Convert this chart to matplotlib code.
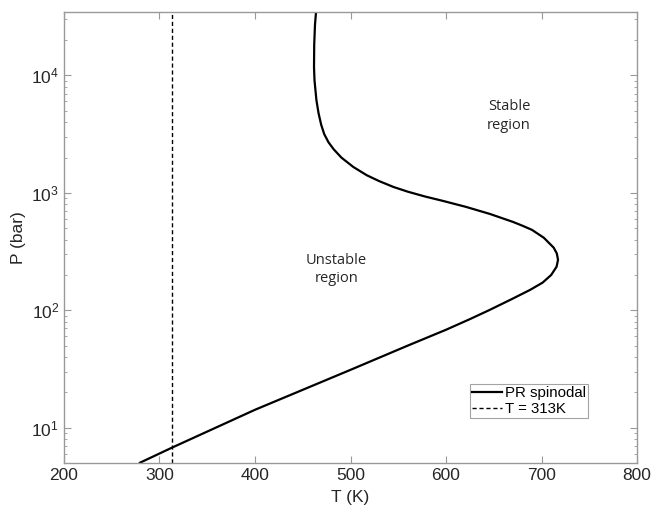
import matplotlib
matplotlib.use("Agg")
import matplotlib.pyplot as plt
from matplotlib.ticker import LogLocator, NullFormatter

plt.rcParams['font.family'] = ['Liberation Sans', 'DejaVu Sans']
plt.rcParams['mathtext.default'] = 'regular'

# PR spinodal curve (T in K, P in bar)
spinodal_T = [279.6, 313.1, 400.0, 500.5, 560.0, 600.0, 625.0, 645.0, 668.5, 688.0,
              701.2, 710.2, 715.8, 717.3, 716.0, 712.8, 702.5, 690.0, 680.0, 670.0,
              646.0, 621.0, 597.5, 577.5, 560.0, 545.0, 530.0, 517.0, 503.0, 490.5,
              482.5, 477.0, 472.5, 469.3, 466.5, 464.3, 462.3, 461.8, 462.0, 462.8,
              463.9]
spinodal_P = [5.03, 6.76, 14.2, 31.2, 50.0, 68.2, 84.0, 100, 124, 149,
              172, 200, 235, 269, 305, 341, 414, 484, 525, 566,
              661, 759, 851, 933, 1023, 1122, 1259, 1413, 1660, 1995,
              2344, 2692, 3162, 3802, 4786, 6166, 9120, 11750, 18200, 26900,
              34700]
isotherm_T = 313
x_ticks = [200, 300, 400, 500, 600, 700, 800]

fig = plt.figure(figsize=(6.54, 5.11), dpi=100)
ax = fig.add_axes([64/654, 1-463/511, (637-64)/654, (463-12)/511])

ax.plot(spinodal_T, spinodal_P, color='black', lw=1.6, label='PR spinodal',
        solid_joinstyle='round')
ax.axvline(isotherm_T, color='black', lw=1.0, ls=(0, (3, 2)), label='T = 313K')

ax.set_yscale('log')
ax.set_xlim(200, 800)
ax.set_ylim(5, 34700)
ax.set_xticks(x_ticks)
ax.yaxis.set_major_locator(LogLocator(base=10, numticks=10))
ax.yaxis.set_minor_locator(LogLocator(base=10, subs=range(2, 10), numticks=20))
ax.yaxis.set_minor_formatter(NullFormatter())

spine_col = '#999999'
for s in ax.spines.values():
    s.set_color(spine_col)
    s.set_linewidth(1.0)
ax.tick_params(which='both', direction='in', top=True, right=True, color=spine_col,
               labelsize=12.5, labelcolor='#262626')
ax.tick_params(which='major', length=5)
ax.tick_params(which='minor', length=2.5)

ax.set_xlabel('T (K)', fontsize=12.5, color='#262626', labelpad=5)
ax.set_ylabel('P (bar)', fontsize=12.5, color='#262626', labelpad=4)

ax.text(485, 221, 'Unstable\nregion', ha='center', va='center', fontsize=10.5,
        family=['Open Sans', 'DejaVu Sans'], color='#262626', linespacing=1.3)
ax.text(666, 4520, 'Stable\nregion', ha='center', va='center', fontsize=10.5,
        family=['Open Sans', 'DejaVu Sans'], color='#262626', linespacing=1.3)

leg = ax.legend(loc='lower right', fontsize=10.8, frameon=True, fancybox=False,
                handlelength=2.0, handletextpad=0.2, borderpad=0.15,
                labelspacing=0.1, borderaxespad=0)
leg.set_bbox_to_anchor((588/654, 1-418/511), transform=fig.transFigure)
leg.get_frame().set_edgecolor('#8c8c8c')
leg.get_frame().set_linewidth(0.8)

fig.savefig('out.png', dpi=100)
